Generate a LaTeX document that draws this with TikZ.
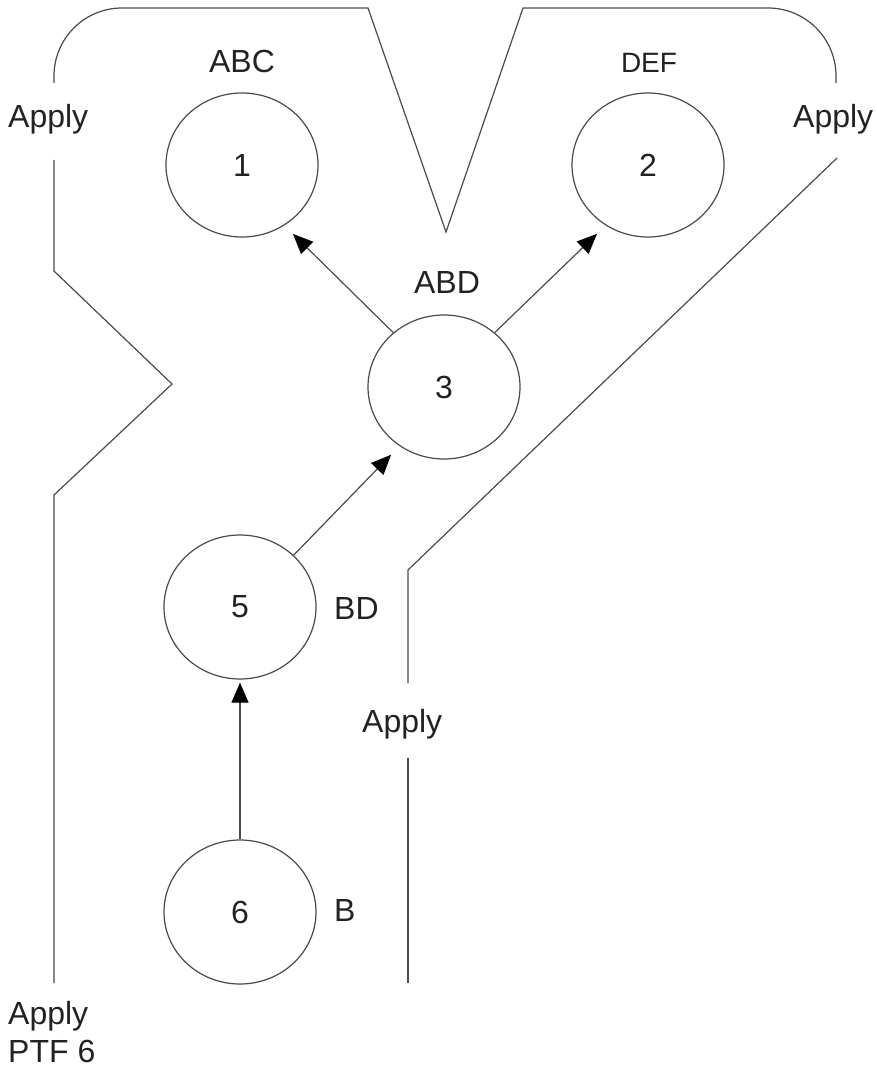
\documentclass[tikz,border=0pt]{standalone}
\usepackage{fontspec}
\setmainfont{Liberation Sans}
\usetikzlibrary{shapes.geometric,arrows.meta}
\definecolor{linecol}{HTML}{4A4A4A}
\definecolor{txt}{HTML}{222222}
\begin{document}
\begin{tikzpicture}[x=1pt,y=-1pt,
  state/.style={draw=linecol, line width=1.2pt, ellipse, minimum width=152pt, minimum height=144pt, inner sep=0pt, font=\fontsize{32}{38}\selectfont, text=txt},
  lbl/.style={font=\fontsize{32}{38}\selectfont, text=txt, inner sep=0pt},
  edge/.style={draw=linecol, line width=1.2pt, -{Triangle[length=20pt,width=17pt,color=black]}},
  fence/.style={draw=linecol, line width=1.2pt, line join=miter}]
\useasboundingbox (0,0) rectangle (876,1067);
% states
\node[state] (n1) at (242,165) {1};
\node[state] (n2) at (648,165) {2};
\node[state] (n3) at (444,387) {3};
\node[state] (n5) at (240,607) {5};
\node[state] (n6) at (240,912) {6};
% state labels
\node[lbl, anchor=base] (l1) at (242,73) {ABC};
\node[lbl, anchor=base, font=\fontsize{28}{34}\selectfont] (l2) at (649,73) {DEF};
\node[lbl, anchor=base] (l3) at (447,293) {ABD};
\node[lbl, anchor=base west] (l5) at (334,619) {BD};
\node[lbl, anchor=base west] (l6) at (334,921) {B};
% arrows
\draw[edge, shorten >=12pt] (n3.133) -- (n1.305);
\draw[edge, shorten >=12pt] (n3.47) -- (n2.235);
\draw[edge, shorten >=12pt] (n5.44) -- (n3.233);
\draw[edge, shorten >=3pt] (n6) -- (n5);
% apply labels
\node[lbl, anchor=base west] (a1) at (8,128) {Apply};
\node[lbl, anchor=base west] (a2) at (793,128) {Apply};
\node[lbl, anchor=base west] (a3) at (362,732) {Apply};
\node[lbl, anchor=north west, align=left] (a4) at (8,1001) {Apply\\PTF 6};
% fences
\draw[fence] (54,83) -- (54,76) arc[start angle=180, end angle=270, radius=68]
  -- (368,8) -- (446,232) -- (523,8) -- (768,8)
  arc[start angle=270, end angle=360, radius=68] -- (836,83);
\draw[fence] (54,160) -- (54,271) -- (172,384) -- (54,495) -- (54,983);
\draw[fence] (837,158) -- (408,570) -- (408,683);
\draw[fence] (408,758) -- (408,983);
\end{tikzpicture}
\end{document}
